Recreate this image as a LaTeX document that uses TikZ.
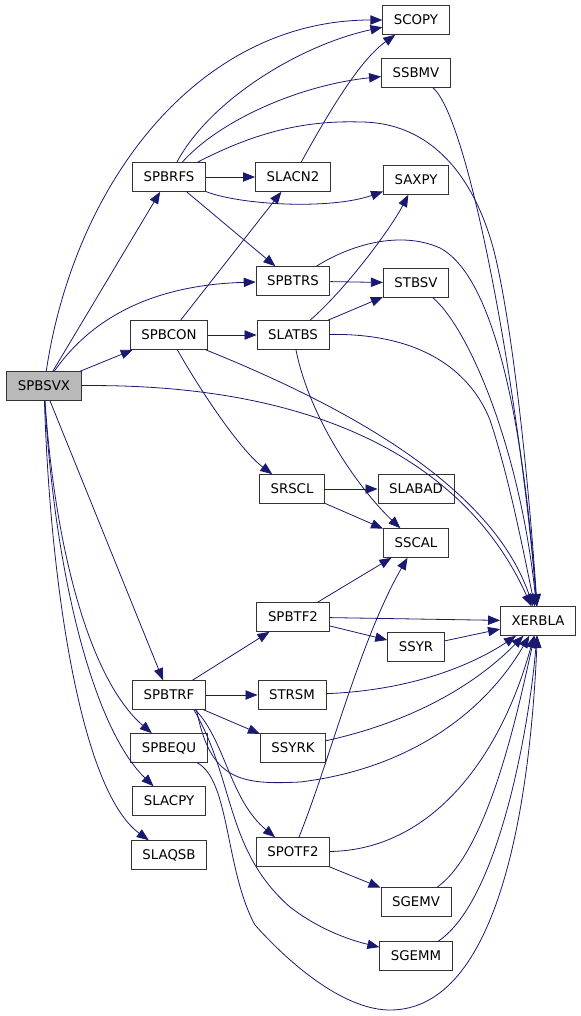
\documentclass[tikz,border=0pt]{standalone}
\usepackage{fontspec}
\setmainfont{DejaVu Sans}
\usetikzlibrary{arrows.meta}
\definecolor{edgeblue}{HTML}{191970}
\tikzset{
  fn/.style={draw=black!80,line width=0.7pt,fill=white,minimum height=21.5pt,
    inner xsep=8.3pt,inner ysep=0pt,font=\fontsize{10}{12}\selectfont},
  rootfn/.style={fn,fill=gray!55},
  call/.style={draw=edgeblue,line width=0.6pt,-{Triangle[length=9pt,width=7pt]}}
}
\begin{document}
\begin{tikzpicture}[x=0.75pt,y=-0.75pt]
  \useasboundingbox (0,0) rectangle (581,1016);
  % column 0 / 1
  \node[rootfn](spbsvx) at (44,386){SPBSVX};
  \node[fn](spbrfs) at (169,177){SPBRFS};
  \node[fn](spbcon) at (169,335){SPBCON};
  \node[fn](spbtrf) at (169,695){SPBTRF};
  \node[fn](spbequ) at (169,748){SPBEQU};
  \node[fn](slacpy) at (169,801){SLACPY};
  \node[fn](slaqsb) at (169,855){SLAQSB};
  % column 2
  \node[fn](slacn2) at (293,177){SLACN2};
  \node[fn](spbtrs) at (293,281){SPBTRS};
  \node[fn](slatbs) at (293,335){SLATBS};
  \node[fn](srscl) at (292,489){SRSCL};
  \node[fn](spbtf2) at (293,617){SPBTF2};
  \node[fn](strsm) at (292,695){STRSM};
  \node[fn](ssyrk) at (293,748){SSYRK};
  \node[fn](spotf2) at (293,852){SPOTF2};
  % column 3
  \node[fn](scopy) at (416,20){SCOPY};
  \node[fn](ssbmv) at (416,73){SSBMV};
  \node[fn](saxpy) at (416,180){SAXPY};
  \node[fn](stbsv) at (416,283){STBSV};
  \node[fn](slabad) at (416,489){SLABAD};
  \node[fn](sscal) at (416,543){SSCAL};
  \node[fn](ssyr) at (416,647){SSYR};
  \node[fn](sgemv) at (416,902){SGEMV};
  \node[fn](sgemm) at (416,956){SGEMM};
  % column 4
  \node[fn](xerbla) at (538,621){XERBLA};

  % SPBSVX calls
  \draw[call](spbsvx) .. controls (75,180) and (200,20) .. (scopy);
  \draw[call](spbsvx) -- (spbrfs);
  \draw[call](spbsvx) .. controls (90,320) and (150,285) .. (spbtrs);
  \draw[call](spbsvx) -- (spbcon);
  \draw[call](spbsvx) .. controls (330,383) and (470,470) .. (xerbla);
  \draw[call](spbsvx) -- (spbtrf);
  \draw[call](spbsvx) .. controls (55,550) and (90,680) .. (spbequ);
  \draw[call](spbsvx) .. controls (55,580) and (95,730) .. (slacpy);
  \draw[call](spbsvx) .. controls (50,580) and (80,790) .. (slaqsb);
  % SPBRFS calls
  \draw[call](spbrfs) .. controls (210,100) and (300,45) .. (scopy);
  \draw[call](spbrfs) .. controls (220,120) and (300,85) .. (ssbmv);
  \draw[call](spbrfs) .. controls (250,135) and (300,120) .. (360,122)
    .. controls (430,122) and (475,175) .. (495,255)
    .. controls (515,340) and (530,500) .. (xerbla);
  \draw[call](spbrfs) -- (slacn2);
  \draw[call](spbrfs) .. controls (240,205) and (330,210) .. (saxpy);
  \draw[call](spbrfs) -- (spbtrs);
  \draw[call](slacn2) .. controls (330,110) and (360,60) .. (scopy);
  % SPBCON calls
  \draw[call](spbcon) -- (slacn2);
  \draw[call](spbcon) -- (slatbs);
  \draw[call](spbcon) .. controls (200,390) and (240,450) .. (srscl);
  \draw[call](spbcon) .. controls (330,400) and (490,480) .. (xerbla);
  % SPBTRS / SLATBS calls
  \draw[call](spbtrs) -- (stbsv);
  \draw[call](spbtrs) .. controls (350,245) and (400,230) .. (440,248)
    .. controls (500,280) and (525,450) .. (xerbla);
  \draw[call](slatbs) -- (stbsv);
  \draw[call](slatbs) .. controls (345,290) and (390,230) .. (saxpy);
  \draw[call](slatbs) .. controls (310,420) and (360,490) .. (sscal);
  \draw[call](slatbs) .. controls (420,333) and (470,370) .. (490,420)
    .. controls (510,480) and (525,560) .. (xerbla);
  \draw[call](stbsv) .. controls (470,330) and (520,450) .. (xerbla);
  \draw[call](ssbmv) .. controls (470,120) and (520,400) .. (xerbla);
  % SRSCL calls
  \draw[call](srscl) -- (slabad);
  \draw[call](srscl) -- (sscal);
  % SPBTRF calls
  \draw[call](spbtrf) -- (spbtf2);
  \draw[call](spbtrf) -- (strsm);
  \draw[call](spbtrf) -- (ssyrk);
  \draw[call]([xshift=-7pt]spbtrf.south east) .. controls (210,780) and (240,785) .. (300,782)
    .. controls (400,770) and (480,720) .. (xerbla);
  \draw[call]([xshift=-8pt]spbtrf.south east) .. controls (225,740) and (230,800) .. (spotf2);
  \draw[call]([xshift=-9pt]spbtrf.south east) .. controls (235,780) and (225,850) .. (290,907)
    .. controls (320,930) and (350,940) .. (sgemm);
  \draw[call](spbtf2) -- (sscal);
  \draw[call](spbtf2) -- (xerbla);
  \draw[call](spbtf2) -- (ssyr);
  \draw[call](ssyr) -- (xerbla);
  \draw[call](strsm) .. controls (420,690) and (480,660) .. (xerbla);
  \draw[call](ssyrk) .. controls (420,720) and (480,680) .. (xerbla);
  % SPOTF2 calls
  \draw[call](spotf2) .. controls (330,760) and (360,640) .. (sscal);
  \draw[call](spotf2) .. controls (430,850) and (500,760) .. (xerbla);
  \draw[call](spotf2) -- (sgemv);
  \draw[call](sgemv) .. controls (490,850) and (520,700) .. (xerbla);
  \draw[call](sgemm) .. controls (500,900) and (530,720) .. (xerbla);
  % SPBEQU -> XERBLA, long way round
  \draw[call](spbequ) .. controls (230,780) and (225,870) .. (255,925)
    .. controls (300,975) and (350,1010) .. (390,1010)
    .. controls (500,1010) and (530,800) .. (xerbla);
\end{tikzpicture}
\end{document}
